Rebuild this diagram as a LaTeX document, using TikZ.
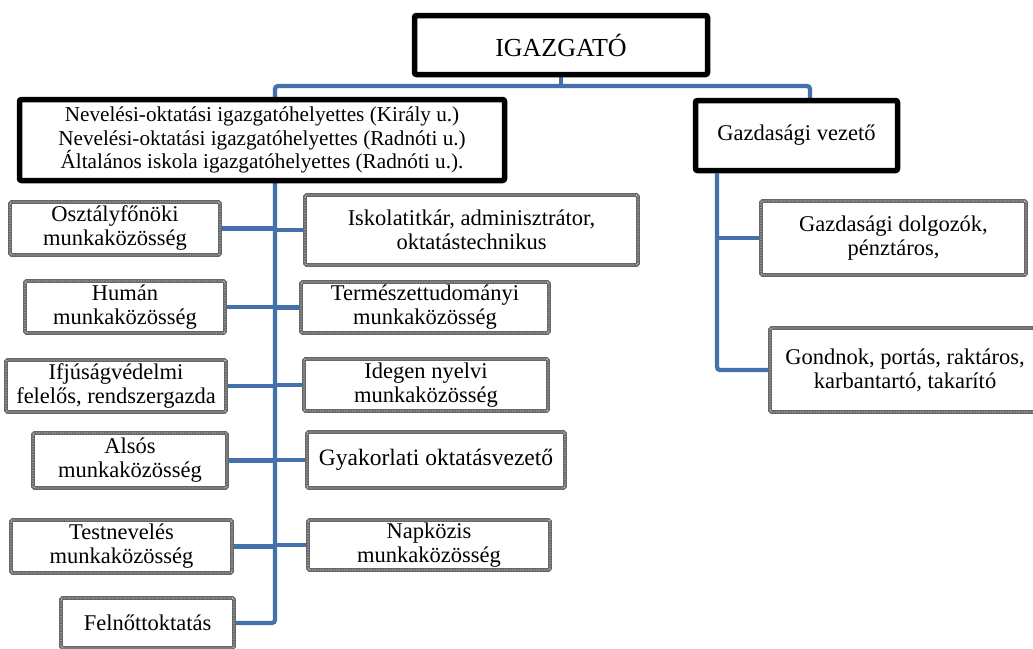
\documentclass[tikz,border=0pt]{standalone}
\usepackage{fontspec}
\setmainfont{Liberation Serif}
\usetikzlibrary{backgrounds}
\definecolor{connblue}{RGB}{68,112,172}
\begin{document}
\begin{tikzpicture}[x=1pt,y=-1pt,
  gbox/.style={draw=black!60, line width=3.6pt, fill=white, align=center, inner sep=0pt,
    rounded corners=1.5pt, font=\fontsize{22.5}{24}\selectfont,
    postaction={draw=white, line width=0.9pt, dash pattern=on 0.6pt off 1pt}},
  bbox/.style={draw=black, line width=5.5pt, fill=white, align=center, inner sep=0pt,
    rounded corners=2pt, font=\fontsize{22.5}{24}\selectfont},
  conn/.style={draw=connblue, line width=4.2pt, rounded corners=3pt}]
\useasboundingbox (0,0) rectangle (1033,648);

% black boxes
\node[bbox, minimum width=293, minimum height=59, font=\fontsize{26}{28}\selectfont] (igaz) at (561,45) {IGAZGATÓ};
\node[bbox, minimum width=485, minimum height=81, font=\fontsize{21.2}{23.5}\selectfont] (nev) at (262,140)
  {\rule{0pt}{12pt}Nevelési-oktatási igazgatóhelyettes (Király u.)\\Nevelési-oktatási igazgatóhelyettes (Radnóti u.)\\Általános iskola igazgatóhelyettes (Radnóti u.).};
\node[bbox, minimum width=202, minimum height=70] (gvez) at (796.5,135.5) {Gazdasági vezető};

% left column
\node[gbox, minimum width=210, minimum height=53] (osz) at (115,228.5) {Osztályfőnöki\\munkaközösség};
\node[gbox, minimum width=200, minimum height=52] (hum) at (125,307) {Humán\\munkaközösség};
\node[gbox, minimum width=220, minimum height=52] (ifj) at (116,386) {Ifjúságvédelmi\\felelős, rendszergazda};
\node[gbox, minimum width=194, minimum height=55] (als) at (130,460.5) {Alsós\\munkaközösség};
\node[gbox, minimum width=221, minimum height=53] (tes) at (121.5,546.5) {Testnevelés\\munkaközösség};
\node[gbox, minimum width=173, minimum height=50] (fel) at (147.5,623) {Felnőttoktatás};

% right column
\node[gbox, minimum width=333, minimum height=70] (isk) at (471.5,230) {Iskolatitkár, adminisztrátor,\\oktatástechnikus};
\node[gbox, minimum width=248, minimum height=51] (ter) at (425,307.5) {Természettudományi\\munkaközösség};
\node[gbox, minimum width=244, minimum height=52] (ide) at (426,385) {Idegen nyelvi\\munkaközösség};
\node[gbox, minimum width=258, minimum height=56, font=\fontsize{23.5}{25}\selectfont] (gya) at (436,460) {Gyakorlati oktatásvezető};
\node[gbox, minimum width=242, minimum height=50] (nap) at (429,545) {Napközis\\munkaközösség};

% economic side
\node[gbox, minimum width=265, minimum height=74] (gdo) at (893.5,238) {Gazdasági dolgozók,\\pénztáros,};
\node[gbox, minimum width=270, minimum height=84] (gon) at (905,370) {Gondnok, portás, raktáros,\\karbantartó, takarító};

\coordinate (tl) at (275,86);
\coordinate (tr) at (810,86);
\coordinate (gv) at (717,173);

\begin{scope}[on background layer]
\fill[white] (0,0) rectangle (1033,648);
\draw[conn] (igaz.south) -- (igaz.south |- tl);
\draw[conn] (fel.east) -| (tl) -- (tr) -- (tr |- gvez.north);
\draw[conn] (osz.east) -- (osz.east -| tl);
\draw[conn] (hum.east) -- (hum.east -| tl);
\draw[conn] (ifj.east) -- (ifj.east -| tl);
\draw[conn] (als.east) -- (als.east -| tl);
\draw[conn] (tes.east) -- (tes.east -| tl);
\draw[conn] (isk.west) -- (isk.west -| tl);
\draw[conn] (ter.west) -- (ter.west -| tl);
\draw[conn] (ide.west) -- (ide.west -| tl);
\draw[conn] (gya.west) -- (gya.west -| tl);
\draw[conn] (nap.west) -- (nap.west -| tl);
\draw[conn] (gv |- gvez.south) |- (gon.west);
\draw[conn] (gdo.west) -- (gdo.west -| gv);
\end{scope}
\end{tikzpicture}
\end{document}
